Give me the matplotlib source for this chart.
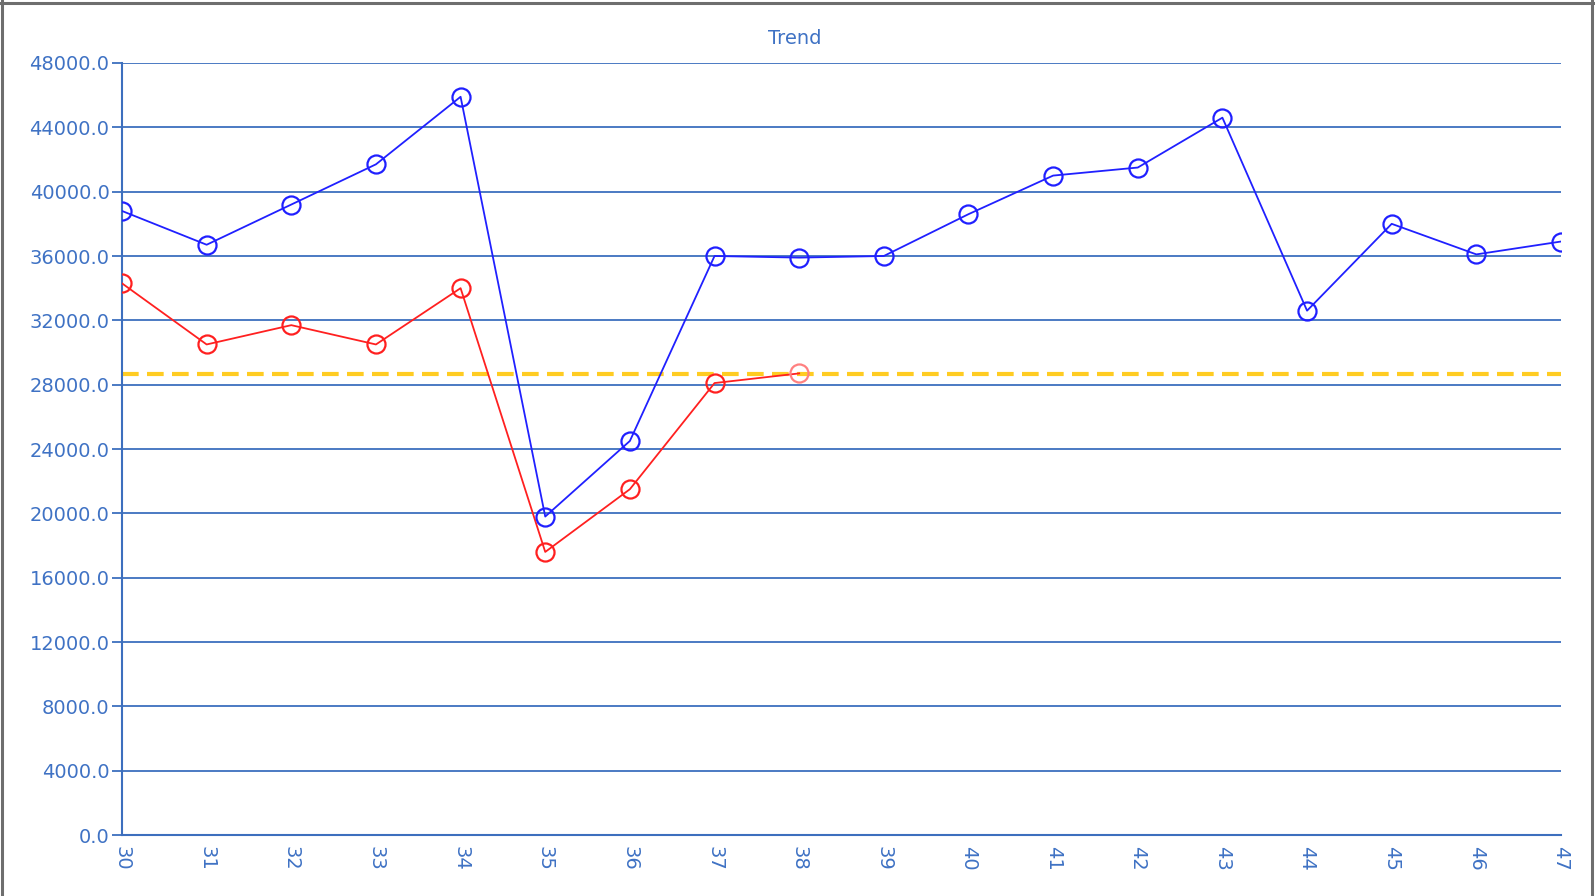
import matplotlib
matplotlib.use("Agg")
import matplotlib.pyplot as plt
from matplotlib.lines import Line2D

weeks = [30, 31, 32, 33, 34, 35, 36, 37, 38, 39, 40, 41, 42, 43, 44, 45, 46, 47]
blue_values = [38800, 36700, 39200, 41700, 45900, 19800, 24500, 36000, 35900, 36000,
               38600, 41000, 41500, 44600, 32600, 38000, 36100, 36900]
red_weeks = [30, 31, 32, 33, 34, 35, 36, 37, 38]
red_values = [34300, 30500, 31700, 30500, 34000, 17600, 21500, 28100, 28700]
target_value = 28650
y_ticks = [0, 4000, 8000, 12000, 16000, 20000, 24000, 28000, 32000, 36000, 40000, 44000, 48000]
y_tick_labels = [f"{v:.1f}" for v in y_ticks]
title = "Trend"

axis_blue = "#3d6fbe"
text_blue = "#3f72c4"

W, H = 1595, 896
fig = plt.figure(figsize=(W / 100, H / 100), dpi=100)
ax = fig.add_axes([122/W, 1 - 835/H, (1561-122)/W, (835-63)/H])

ax.set_xlim(weeks[0], weeks[-1])
ax.set_ylim(0, 48000)
ax.set_yticks(y_ticks)
ax.set_yticklabels(y_tick_labels)
ax.set_xticks(weeks)
ax.set_xticklabels([str(w) for w in weeks], rotation=270)

for y in y_ticks[1:]:
    ax.axhline(y, color=axis_blue, lw=1.3, zorder=1)

ax.axhline(target_value, color="#ffcc22", lw=3, ls=(0, (4, 2)), zorder=2)

ax.plot(weeks, blue_values, color="#2020ff", lw=1.3, marker="o", markersize=13,
        markerfacecolor="none", markeredgewidth=1.6, zorder=4)
ax.plot(red_weeks, red_values, color="#ff2020", lw=1.3, zorder=3)
ax.plot(red_weeks[:-1], red_values[:-1], ls="none", marker="o", markersize=13,
        markerfacecolor="none", markeredgecolor="#ff2020", markeredgewidth=1.6, zorder=3)
ax.plot(red_weeks[-1:], red_values[-1:], ls="none", marker="o", markersize=13,
        markerfacecolor="none", markeredgecolor="#ff8080", markeredgewidth=1.6, zorder=3)

for s in ["top", "right"]:
    ax.spines[s].set_visible(False)
for s in ["left", "bottom"]:
    ax.spines[s].set_color(axis_blue)
    ax.spines[s].set_linewidth(1.5)

ax.tick_params(axis="y", colors=axis_blue, labelcolor=text_blue, labelsize=14, length=7, width=1.3, pad=2)
ax.tick_params(axis="x", colors=axis_blue, labelcolor=text_blue, labelsize=14, length=0, pad=8)

fig.text(795/W, 1 - 39/H, title, color=text_blue, fontsize=14, ha="center", va="center")

border = "#6e6e6e"
def px_line(x0, y0, x1, y1):
    fig.lines.append(Line2D([x0 / W, x1 / W], [1 - y0 / H, 1 - y1 / H], transform=fig.transFigure,
                            color=border, lw=2.2))
px_line(2, 0, 2, H)
px_line(0, 3, W, 3)
px_line(1592, 0, 1592, H)

fig.savefig("out.png", dpi=100)
